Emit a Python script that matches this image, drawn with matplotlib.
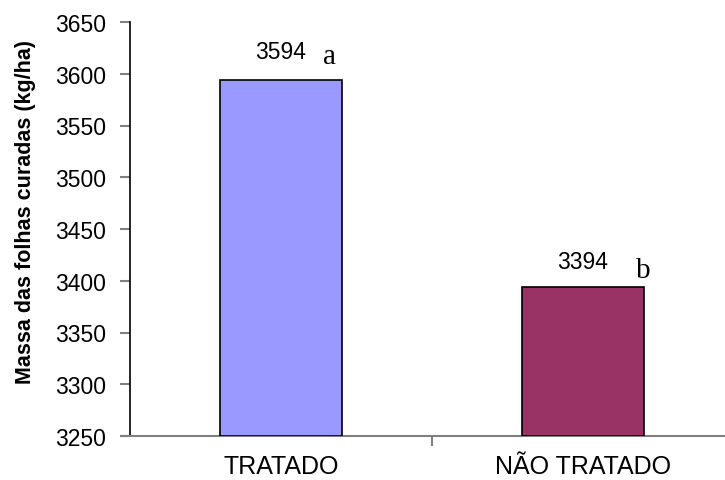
import matplotlib
matplotlib.use("Agg")
import matplotlib.pyplot as plt
from matplotlib.lines import Line2D

categories = ["TRATADO", "NÃO TRATADO"]
values = [3594, 3394]
letters = ["a", "b"]
colors = ["#9999FF", "#993366"]
yticks = [3250, 3300, 3350, 3400, 3450, 3500, 3550, 3600, 3650]

plt.rcParams['font.family'] = ['Liberation Sans', 'DejaVu Sans']

fig = plt.figure(figsize=(7.25, 4.81), dpi=100)
ax = fig.add_axes([130/725, 44/481, 604/725, 414/481])

x = list(range(len(categories)))
bars = ax.bar(x, [v - 3250 for v in values], bottom=3250, width=0.405,
              color=colors, edgecolor="black", linewidth=1.2, zorder=3)

ax.set_xlim(-0.5, 1.5)
ax.set_ylim(3250, 3650)
ax.set_yticks(yticks)
ax.set_yticklabels([str(t) for t in yticks], fontsize=16.5)
ax.set_xticks(x)
ax.set_xticklabels(categories, fontsize=18)
ax.tick_params(axis='x', which='major', length=0, pad=13)
ax.set_xticks([0.5], minor=True)
ax.tick_params(axis='x', which='minor', length=7, width=1.5, color="#808080", direction='out')
ax.tick_params(axis='y', length=7, width=1.5, color="#808080", direction='out', pad=10.5)

for s in ["top", "right"]:
    ax.spines[s].set_visible(False)
ax.spines["left"].set_color("black")
ax.spines["left"].set_linewidth(1.2)
ax.spines["bottom"].set_color("#808080")
ax.spines["bottom"].set_linewidth(1.5)
ax.add_line(Line2D([-8/604, 0], [0, 0], transform=ax.transAxes, color="#808080",
                   linewidth=1.5, clip_on=False))

ax.set_ylabel("Massa das folhas curadas (kg/ha)", fontsize=15.5, fontweight="bold", va="center")
ax.yaxis.set_label_coords(-104/604, 0.543)

val_off = [28, 25]
let_dx = [48, 60]
let_dy = [24, 17]
for i, (v, l) in enumerate(zip(values, letters)):
    ax.annotate(str(v), (x[i], v), xytext=(0, val_off[i]), textcoords="offset pixels",
                ha="center", va="center", fontsize=16.5)
    ax.annotate(l, (x[i], v), xytext=(let_dx[i], let_dy[i]), textcoords="offset pixels",
                ha="center", va="center", fontsize=21, family="Liberation Serif")

fig.savefig("out.png", dpi=100)
